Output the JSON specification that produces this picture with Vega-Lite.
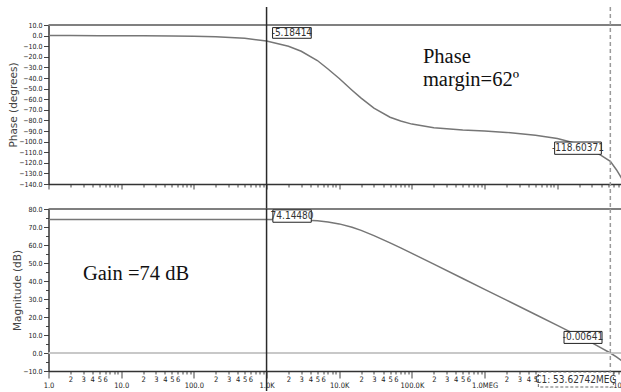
{
  "$schema": "https://vega.github.io/schema/vega-lite/v6.json",
  "background": "white",
  "padding": {"left": 8.5, "top": 6, "right": -26, "bottom": -10},
  "bounds": "flush",
  "spacing": 25,
  "resolve": {"scale": {"y": "independent", "x": "independent"}},
  "config": {
    "view": {"stroke": null},
    "axis": {
      "grid": false,
      "domainColor": "#333",
      "domainWidth": 1.5,
      "tickColor": "#444",
      "labelColor": "#222",
      "titleColor": "#444",
      "labelFont": "Liberation Sans Narrow, DejaVu Sans Condensed, sans-serif",
      "labelFontSize": 7,
      "titleFont": "DejaVu Sans",
      "titleFontSize": 10.5,
      "titleFontWeight": "normal",
      "labelOverlap": false,
      "labelFlush": false,
      "labelBound": false
    }
  },
  "datasets": {
    "curve": [
      {"f": 1, "phase": 0, "mag": 74.17},
      {"f": 2, "phase": -0.01, "mag": 74.17},
      {"f": 5, "phase": -0.03, "mag": 74.17},
      {"f": 10, "phase": -0.05, "mag": 74.17},
      {"f": 20, "phase": -0.1, "mag": 74.17},
      {"f": 50, "phase": -0.26, "mag": 74.17},
      {"f": 100, "phase": -0.52, "mag": 74.17},
      {"f": 200, "phase": -1.04, "mag": 74.16},
      {"f": 500, "phase": -2.6, "mag": 74.16},
      {"f": 1000, "phase": -5.18, "mag": 74.14},
      {"f": 2000, "phase": -10.0, "mag": 74.04},
      {"f": 3000, "phase": -14.8, "mag": 73.88},
      {"f": 5000, "phase": -23.5, "mag": 73.42},
      {"f": 7000, "phase": -31.5, "mag": 72.8},
      {"f": 10000, "phase": -40.5, "mag": 71.73},
      {"f": 15000, "phase": -51.5, "mag": 69.86},
      {"f": 20000, "phase": -59, "mag": 68.11},
      {"f": 30000, "phase": -68.5, "mag": 65.24},
      {"f": 50000, "phase": -77, "mag": 61.18},
      {"f": 70000, "phase": -80.5, "mag": 58.37},
      {"f": 100000, "phase": -83.5, "mag": 55.33},
      {"f": 200000, "phase": -87, "mag": 49.35},
      {"f": 500000, "phase": -89, "mag": 41.4},
      {"f": 1000000, "phase": -90, "mag": 35.38},
      {"f": 2000000, "phase": -91.3, "mag": 29.36},
      {"f": 5000000, "phase": -94, "mag": 21.4},
      {"f": 10000000, "phase": -97, "mag": 15.38},
      {"f": 20000000, "phase": -102.5, "mag": 9.24},
      {"f": 30000000, "phase": -108, "mag": 5.58},
      {"f": 40000000, "phase": -113, "mag": 2.88},
      {"f": 53627420, "phase": -118.6, "mag": -0.006},
      {"f": 65000000, "phase": -126.5, "mag": -2.2},
      {"f": 75000000, "phase": -133.5, "mag": -4.0},
      {"f": 85000000, "phase": -140.5, "mag": -5.4},
      {"f": 100000000, "phase": -150, "mag": -7.3}
    ],
    "cursor1": [{"f": 1000}],
    "cursor2": [{"f": 53627420}]
  },
  "vconcat": [
    {
      "width": 581.5,
      "height": 159,
      "layer": [
        {
          "data": {"name": "curve"},
          "mark": {"type": "line", "color": "#767676", "strokeWidth": 1.5, "clip": true},
          "encoding": {
            "x": {
              "field": "f", "type": "quantitative",
              "scale": {"type": "log", "domain": [1, 100000000], "nice": false},
              "axis": {
                "values": [1,2,3,4,5,6,7,8,9,10,20,30,40,50,60,70,80,90,100,200,300,400,500,600,700,800,900,1000,2000,3000,4000,5000,6000,7000,8000,9000,10000,20000,30000,40000,50000,60000,70000,80000,90000,100000,200000,300000,400000,500000,600000,700000,800000,900000,1000000,2000000,3000000,4000000,5000000,6000000,7000000,8000000,9000000,10000000,20000000,30000000,40000000,50000000,60000000,70000000,80000000,90000000,100000000],
                "tickCount": 200,
                "labels": false,
                "title": null,
                "tickSize": {"condition": {"test": "abs(log(datum.value)/LN10 - round(log(datum.value)/LN10)) < 0.001", "value": 5}, "value": 3}
              }
            },
            "y": {
              "field": "phase", "type": "quantitative",
              "scale": {"domain": [-140, 10], "nice": false, "zero": false},
              "axis": {
                "values": [-140,-130,-120,-110,-100,-90,-80,-70,-60,-50,-40,-30,-20,-10,0,10],
                "tickCount": 100,
                "format": ".1f",
                "labelOverlap": false,
                "title": "Phase (degrees)",
                "tickSize": 5,
                "labelPadding": 1.5,
                "titlePadding": 0
              }
            }
          }
        },
        {
          "data": {"values": [{}]},
          "mark": {"type": "rule", "color": "#808080", "strokeWidth": 2},
          "encoding": {
            "y": {"datum": 10, "type": "quantitative", "scale": {"domain": [-140, 10], "nice": false, "zero": false}}
          }
        },
        {
          "data": {"name": "cursor1"},
          "mark": {"type": "rule", "color": "#2a2a2a", "strokeWidth": 1.5, "clip": false},
          "encoding": {
            "x": {"field": "f", "type": "quantitative", "scale": {"type": "log", "domain": [1, 100000000], "nice": false}},
            "y": {"datum": 27, "type": "quantitative", "scale": {"domain": [-140, 10], "nice": false, "zero": false}},
            "y2": {"datum": -163.9}
          }
        },
        {
          "data": {"name": "cursor2"},
          "mark": {"type": "rule", "color": "#9a9a9a", "strokeWidth": 1.5, "strokeDash": [4, 3], "clip": false},
          "encoding": {
            "x": {"field": "f", "type": "quantitative", "scale": {"type": "log", "domain": [1, 100000000], "nice": false}},
            "y": {"datum": 27, "type": "quantitative", "scale": {"domain": [-140, 10], "nice": false, "zero": false}},
            "y2": {"datum": -163.9}
          }
        },
        {
          "data": {"values": [{"f": 1000, "v": -5.18414, "t": "-5.18414"}]},
          "layer": [
            {
              "mark": {"type": "point", "shape": "M0.6,-1.35H4.47V-0.28H0.6Z", "size": 400, "filled": true, "fill": "white", "stroke": "#222", "strokeWidth": 1, "opacity": 1, "fillOpacity": 1, "clip": false}
            },
            {
              "mark": {"type": "text", "dx": 25.3, "dy": -8.2, "align": "center", "baseline": "middle", "font": "Liberation Sans Narrow, DejaVu Sans Condensed, sans-serif", "fontSize": 10, "color": "#333"},
              "encoding": {"text": {"field": "t"}}
            }
          ],
          "encoding": {
            "x": {"field": "f", "type": "quantitative", "scale": {"type": "log", "domain": [1, 100000000], "nice": false}},
            "y": {"field": "v", "type": "quantitative", "scale": {"domain": [-140, 10], "nice": false, "zero": false}}
          }
        },
        {
          "data": {"values": [{"f": 53627420, "v": -118.60371, "t": "-118.60371"}]},
          "layer": [
            {
              "mark": {"type": "point", "shape": "M-5.57,-1.93H-0.9V-0.7H-5.57Z", "size": 400, "filled": true, "fill": "white", "stroke": "#222", "strokeWidth": 1, "opacity": 1, "fillOpacity": 1, "clip": false}
            },
            {
              "mark": {"type": "text", "dx": -32.3, "dy": -13.2, "align": "center", "baseline": "middle", "font": "Liberation Sans Narrow, DejaVu Sans Condensed, sans-serif", "fontSize": 10, "color": "#333"},
              "encoding": {"text": {"field": "t"}}
            }
          ],
          "encoding": {
            "x": {"field": "f", "type": "quantitative", "scale": {"type": "log", "domain": [1, 100000000], "nice": false}},
            "y": {"field": "v", "type": "quantitative", "scale": {"domain": [-140, 10], "nice": false, "zero": false}}
          }
        },
        {
          "data": {"values": [{"f": 141600, "v": -25.8, "t": "Phase"}, {"f": 141600, "v": -47.5, "t": "margin=62º"}]},
          "mark": {"type": "text", "align": "left", "baseline": "alphabetic", "font": "Liberation Serif, Times New Roman, serif", "fontSize": 20.5, "color": "#111"},
          "encoding": {
            "x": {"field": "f", "type": "quantitative", "scale": {"type": "log", "domain": [1, 100000000], "nice": false}},
            "y": {"field": "v", "type": "quantitative", "scale": {"domain": [-140, 10], "nice": false, "zero": false}},
            "text": {"field": "t"}
          }
        }
      ]
    },
    {
      "width": 581.5,
      "height": 162,
      "layer": [
        {
          "data": {"name": "curve"},
          "mark": {"type": "line", "color": "#767676", "strokeWidth": 1.5, "clip": true},
          "encoding": {
            "x": {
              "field": "f", "type": "quantitative",
              "scale": {"type": "log", "domain": [1, 100000000], "nice": false},
              "axis": {
                "values": [1,2,3,4,5,6,7,8,9,10,20,30,40,50,60,70,80,90,100,200,300,400,500,600,700,800,900,1000,2000,3000,4000,5000,6000,7000,8000,9000,10000,20000,30000,40000,50000,60000,70000,80000,90000,100000,200000,300000,400000,500000,600000,700000,800000,900000,1000000,2000000,3000000,4000000,5000000,6000000,7000000,8000000,9000000,10000000,20000000,30000000,40000000,50000000,60000000,70000000,80000000,90000000,100000000],
                "tickCount": 200,
                "labelExpr": "datum.value == 1 ? '1.0' : datum.value == 10 ? '10.0' : datum.value == 100 ? '100.0' : datum.value == 1000 ? '1.0K' : datum.value == 10000 ? '10.0K' : datum.value == 100000 ? '100.0K' : datum.value == 1000000 ? '1.0MEG' : datum.value == 100000000 ? '100.0MEG' : datum.value >= 5500000 ? '' : (round(datum.value / pow(10, floor(log(datum.value)/LN10 + 0.001))) <= 6 ? '' + round(datum.value / pow(10, floor(log(datum.value)/LN10 + 0.001))) : '')",
                "labelOverlap": false,
                "labelFontSize": 7.5,
                "title": "Frequency (Hz)",
                "titleFontSize": 10,
                "titlePadding": 2,
                "tickSize": {"condition": {"test": "abs(log(datum.value)/LN10 - round(log(datum.value)/LN10)) < 0.001", "value": 7}, "value": 3},
                "labelPadding": {"condition": {"test": "abs(log(datum.value)/LN10 - round(log(datum.value)/LN10)) < 0.001", "value": 3}, "value": 1}
              }
            },
            "y": {
              "field": "mag", "type": "quantitative",
              "scale": {"domain": [-10, 80], "nice": false, "zero": false},
              "axis": {
                "values": [-10,-5,0,5,10,15,20,25,30,35,40,45,50,55,60,65,70,75,80],
                "tickCount": 100,
                "labelExpr": "datum.value % 10 == 0 ? format(datum.value, '.1f') : ''",
                "labelOverlap": false,
                "title": "Magnitude (dB)",
                "tickSize": {"condition": {"test": "datum.value % 10 == 0", "value": 5}, "value": 3},
                "labelPadding": 1.5,
                "titlePadding": 0
              }
            }
          }
        },
        {
          "data": {"values": [{}]},
          "mark": {"type": "rule", "color": "#c8c8c8", "strokeWidth": 2},
          "encoding": {
            "y": {"datum": 0, "type": "quantitative", "scale": {"domain": [-10, 80], "nice": false, "zero": false}}
          }
        },
        {
          "data": {"values": [{}]},
          "mark": {"type": "rule", "color": "#555555", "strokeWidth": 1.5},
          "encoding": {
            "y": {"datum": 80, "type": "quantitative", "scale": {"domain": [-10, 80], "nice": false, "zero": false}}
          }
        },
        {
          "data": {"name": "cursor1"},
          "mark": {"type": "rule", "color": "#2a2a2a", "strokeWidth": 1.5, "clip": false},
          "encoding": {
            "x": {"field": "f", "type": "quantitative", "scale": {"type": "log", "domain": [1, 100000000], "nice": false}},
            "y": {"datum": 80, "type": "quantitative", "scale": {"domain": [-10, 80], "nice": false, "zero": false}},
            "y2": {"datum": -23}
          }
        },
        {
          "data": {"name": "cursor2"},
          "mark": {"type": "rule", "color": "#9a9a9a", "strokeWidth": 1.5, "strokeDash": [4, 3], "clip": false},
          "encoding": {
            "x": {"field": "f", "type": "quantitative", "scale": {"type": "log", "domain": [1, 100000000], "nice": false}},
            "y": {"datum": 80, "type": "quantitative", "scale": {"domain": [-10, 80], "nice": false, "zero": false}},
            "y2": {"datum": -23}
          }
        },
        {
          "data": {"values": [{"f": 1000, "v": 74.1448, "t": "74.14480"}]},
          "layer": [
            {
              "mark": {"type": "point", "shape": "M0.63,-0.97H4.47V0.27H0.63Z", "size": 400, "filled": true, "fill": "white", "stroke": "#222", "strokeWidth": 1, "opacity": 1, "fillOpacity": 1, "clip": false}
            },
            {
              "mark": {"type": "text", "dx": 25.5, "dy": -3.5, "align": "center", "baseline": "middle", "font": "Liberation Sans Narrow, DejaVu Sans Condensed, sans-serif", "fontSize": 10, "color": "#333"},
              "encoding": {"text": {"field": "t"}}
            }
          ],
          "encoding": {
            "x": {"field": "f", "type": "quantitative", "scale": {"type": "log", "domain": [1, 100000000], "nice": false}},
            "y": {"field": "v", "type": "quantitative", "scale": {"domain": [-10, 80], "nice": false, "zero": false}}
          }
        },
        {
          "data": {"values": [{"f": 53627420, "v": -0.00641, "t": "-0.00641"}]},
          "layer": [
            {
              "mark": {"type": "point", "shape": "M-4.63,-2.16H-0.83V-0.96H-4.63Z", "size": 400, "filled": true, "fill": "white", "stroke": "#222", "strokeWidth": 1, "opacity": 1, "fillOpacity": 1, "clip": false}
            },
            {
              "mark": {"type": "text", "dx": -27.3, "dy": -15.6, "align": "center", "baseline": "middle", "font": "Liberation Sans Narrow, DejaVu Sans Condensed, sans-serif", "fontSize": 10, "color": "#333"},
              "encoding": {"text": {"field": "t"}}
            }
          ],
          "encoding": {
            "x": {"field": "f", "type": "quantitative", "scale": {"type": "log", "domain": [1, 100000000], "nice": false}},
            "y": {"field": "v", "type": "quantitative", "scale": {"domain": [-10, 80], "nice": false, "zero": false}}
          }
        },
        {
          "data": {"values": [{"f": 53627420, "v": -10, "t": "C1: 53.62742MEG"}]},
          "layer": [
            {
              "mark": {"type": "point", "shape": "M-7.2,0.1H0.3V1.6H-7.2Z", "size": 400, "filled": true, "fill": "white", "stroke": "#666", "strokeWidth": 1, "strokeDash": [3, 2], "opacity": 1, "fillOpacity": 1, "clip": false}
            },
            {
              "mark": {"type": "text", "dx": -34.5, "dy": 8.5, "align": "center", "baseline": "middle", "font": "Liberation Sans Narrow, DejaVu Sans Condensed, sans-serif", "fontSize": 10, "color": "#333"},
              "encoding": {"text": {"field": "t"}}
            }
          ],
          "encoding": {
            "x": {"field": "f", "type": "quantitative", "scale": {"type": "log", "domain": [1, 100000000], "nice": false}},
            "y": {"field": "v", "type": "quantitative", "scale": {"domain": [-10, 80], "nice": false, "zero": false}}
          }
        },
        {
          "data": {"values": [{"f": 2.98, "v": 40.7, "t": "Gain =74 dB"}]},
          "mark": {"type": "text", "align": "left", "baseline": "alphabetic", "font": "Liberation Serif, Times New Roman, serif", "fontSize": 20.5, "color": "#111"},
          "encoding": {
            "x": {"field": "f", "type": "quantitative", "scale": {"type": "log", "domain": [1, 100000000], "nice": false}},
            "y": {"field": "v", "type": "quantitative", "scale": {"domain": [-10, 80], "nice": false, "zero": false}},
            "text": {"field": "t"}
          }
        }
      ]
    }
  ]
}
